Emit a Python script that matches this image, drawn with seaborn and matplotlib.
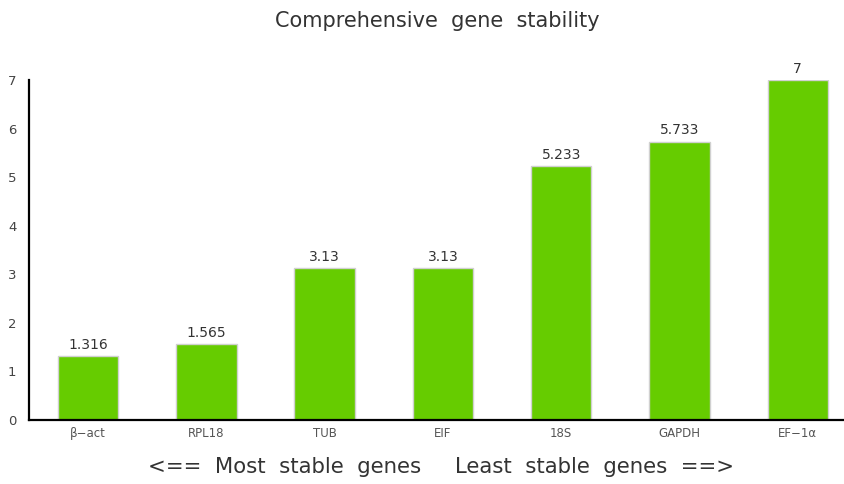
import matplotlib
matplotlib.use("Agg")
import matplotlib.pyplot as plt
import seaborn as sns
import pandas as pd

genes = ["β−act", "RPL18", "TUB", "EIF", "18S", "GAPDH", "EF−1α"]
values = [1.316, 1.565, 3.13, 3.13, 5.233, 5.733, 7]
value_labels = ["1.316", "1.565", "3.13", "3.13", "5.233", "5.733", "7"]
yticks = [0, 1, 2, 3, 4, 5, 6, 7]

sns.set_style("white")
plt.rcParams["font.family"] = ["DejaVu Sans"]

df = pd.DataFrame({"gene": genes, "value": values})

fig = plt.figure(figsize=(8.45, 4.84), dpi=100)
ax = fig.add_axes([0.0343, 0.1322, 0.9657, 0.7025])

sns.barplot(data=df, x="gene", y="value", color="#66cc00", width=0.51,
            edgecolor="#d0d0d0", linewidth=1, saturation=1, ax=ax)

ax.bar_label(ax.containers[0], labels=value_labels, padding=3,
             fontsize=10, color="#333333")

ax.set_xlim(-0.5, 6.4)
ax.set_ylim(0, 7)
ax.set_yticks(yticks)
ax.set_yticklabels([str(t) for t in yticks], fontsize=9.5, color="#444444")
ax.tick_params(axis="y", length=0, pad=9)
ax.tick_params(axis="x", length=0, pad=5, labelsize=8.5, labelcolor="#555555")
ax.set_xlabel("")
ax.set_ylabel("")

for s in ["top", "right"]:
    ax.spines[s].set_visible(False)
for s in ["left", "bottom"]:
    ax.spines[s].set_color("black")
    ax.spines[s].set_linewidth(1.6)
ax.spines["left"].set_bounds(0, 7)

fig.text(0.518, 0.957, "Comprehensive  gene  stability", ha="center", va="center",
         fontsize=15, color="#333333")
fig.text(0.522, 0.035, "<==  Most  stable  genes     Least  stable  genes  ==>",
         ha="center", va="center", fontsize=15.3, color="#333333")

fig.savefig("out.png", dpi=100)
